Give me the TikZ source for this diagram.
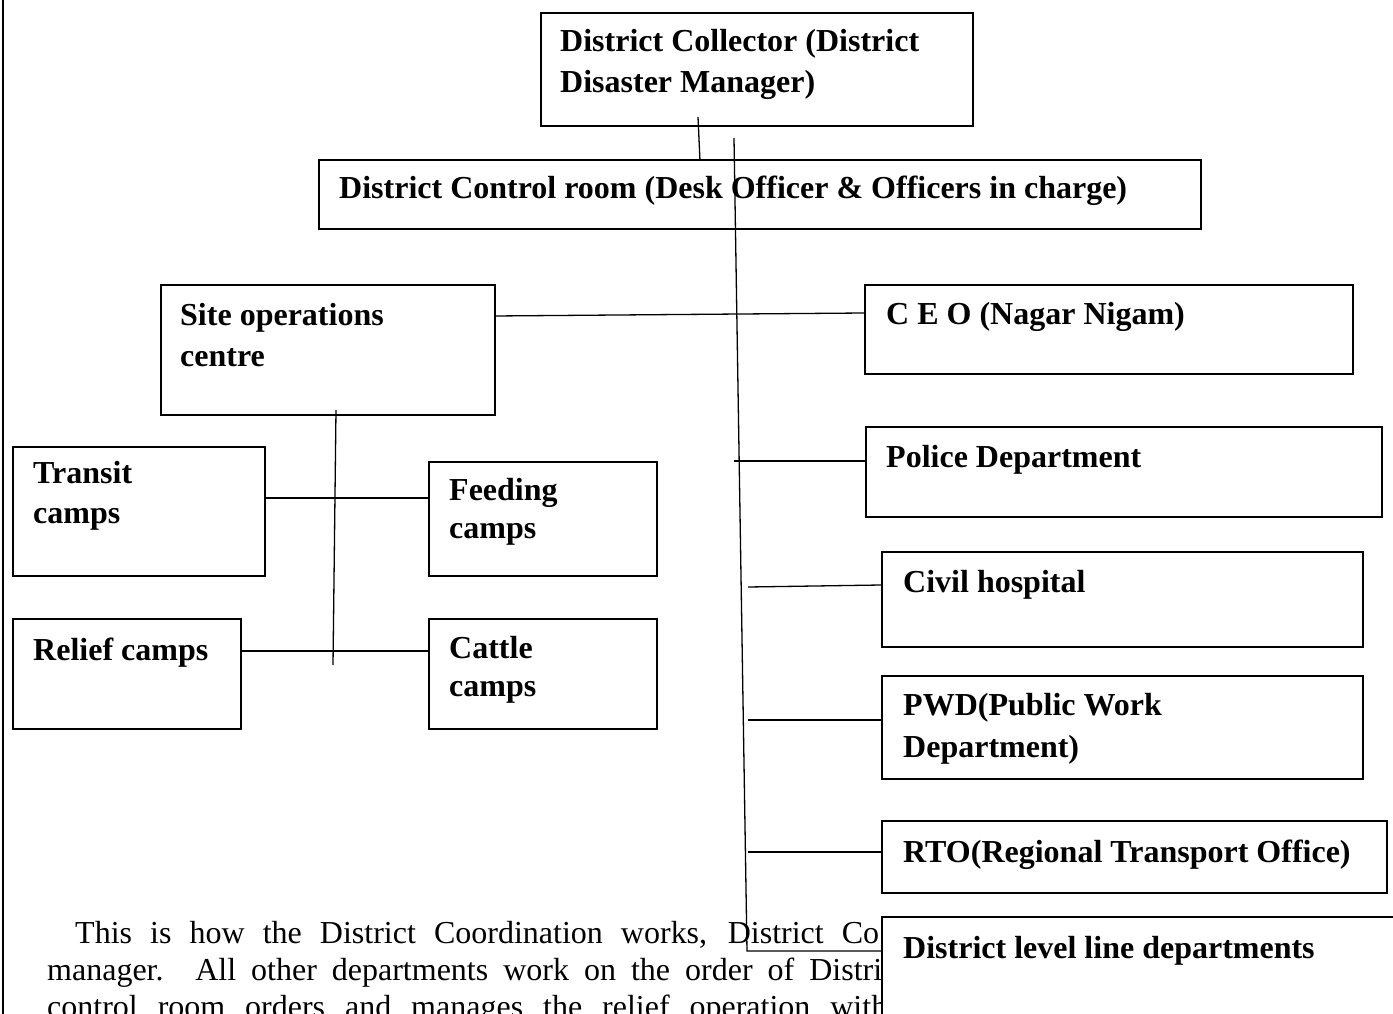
\documentclass[tikz,border=0pt]{standalone}
\usepackage{fontspec}
\setmainfont{Liberation Serif}
\begin{document}
\begin{tikzpicture}[x=1pt,y=-1pt,
  box/.style={draw, line width=1.6pt, fill=white, inner sep=0pt, anchor=north west},
  lbl/.style={anchor=base west, inner sep=0pt, font=\fontsize{32}{41}\selectfont\bfseries},
  para/.style={anchor=base west, inner sep=0pt, font=\fontsize{32}{37}\selectfont},
  link/.style={line width=1.3pt},
]
\useasboundingbox (0,0) rectangle (1393,1014);
\clip (0,0) rectangle (1393,1014);

% page edge on the left
\coordinate (edgeT) at (3,0);
\coordinate (edgeB) at (3,1014);
\draw[link] (edgeT) -- (edgeB);

% boxes
\node[box, minimum width=432pt, minimum height=113pt] (coll)    at (540,12)  {};
\node[box, minimum width=882pt, minimum height=69pt]  (ctrl)    at (318,159) {};
\node[box, minimum width=334pt, minimum height=130pt] (site)    at (160,284) {};
\node[box, minimum width=488pt, minimum height=89pt]  (ceo)     at (864,284) {};
\node[box, minimum width=516pt, minimum height=90pt]  (police)  at (865,426) {};
\node[box, minimum width=481pt, minimum height=95pt]  (civil)   at (881,551) {};
\node[box, minimum width=481pt, minimum height=103pt] (pwd)     at (881,675) {};
\node[box, minimum width=505pt, minimum height=72pt]  (rto)     at (881,820) {};
\node[box, minimum width=252pt, minimum height=129pt] (transit) at (12,446)  {};
\node[box, minimum width=228pt, minimum height=114pt] (feeding) at (428,461) {};
\node[box, minimum width=228pt, minimum height=110pt] (relief)  at (12,618)  {};
\node[box, minimum width=228pt, minimum height=110pt] (cattle)  at (428,618) {};

% box texts
\node[lbl] (coll1)    at (560,52)  {District Collector (District};
\node[lbl] (coll2)    at (560,93)  {Disaster Manager)};
\node[lbl] (ctrl1)    at (339,198) {District Control room (Desk Officer \& Officers in charge)};
\node[lbl] (site1)    at (180,325) {Site operations};
\node[lbl] (site2)    at (180,366) {centre};
\node[lbl] (ceo1)     at (886,324) {C E O (Nagar Nigam)};
\node[lbl] (police1)  at (886,467) {Police Department};
\node[lbl] (civil1)   at (903,592) {Civil hospital};
\node[lbl] (pwd1)     at (903,715) {PWD(Public Work};
\node[lbl] (pwd2)     at (903,757) {Department)};
\node[lbl] (rto1)     at (903,862) {RTO(Regional Transport Office)};
\node[lbl] (transit1) at (33,483)  {Transit};
\node[lbl] (transit2) at (33,523)  {camps};
\node[lbl] (feeding1) at (449,500) {Feeding};
\node[lbl] (feeding2) at (449,538) {camps};
\node[lbl] (relief1)  at (33,660)  {Relief camps};
\node[lbl] (cattle1)  at (449,658) {Cattle};
\node[lbl] (cattle2)  at (449,696) {camps};

% connector end points
\coordinate (cA) at (698,117);
\coordinate (cB) at (700,161);
\coordinate (tTop) at (734,138);
\coordinate (tBot) at (747,951);
\coordinate (pA) at (734,461);
\coordinate (hA) at (748,587);
\coordinate (wA) at (748,720);
\coordinate (rA) at (748,852);
\coordinate (sTop) at (336,410);
\coordinate (sBot) at (333,665);
\coordinate (sR) at (494,316);
\coordinate (ceoL) at (864,313);
\coordinate (polL) at (865,461);
\coordinate (civL) at (881,585);
\coordinate (pwdL) at (881,720);
\coordinate (rtoL) at (881,852);
\coordinate (trR) at (264,498);
\coordinate (feL) at (428,498);
\coordinate (reR) at (240,651);
\coordinate (caL) at (428,651);

% connectors
\draw[link] (cA) -- (cB);
\draw[link] (sR) -- (ceoL);
\draw[link] (pA) -- (polL);
\draw[link] (hA) -- (civL);
\draw[link] (wA) -- (pwdL);
\draw[link] (rA) -- (rtoL);
\draw[link] (sTop) -- (sBot);
\draw[link] (trR) -- (feL);
\draw[link] (reR) -- (caL);

% running text below the chart
\node[para] (par1) at (75,943)  {\makebox[804pt][s]{This is how the District Coordination works, District Co}};
\node[para] (par2) at (47,980)  {\makebox[835pt][s]{manager. All other departments work on the order of Distri}};
\node[para] (par3) at (47,1017) {\makebox[840pt][s]{control room orders and manages the relief operation with}};

% last department box sits over the text
\node[box, minimum width=600pt, minimum height=200pt] (dlld) at (881,916) {};
\node[lbl] (dlld1) at (903,958) {District level line departments};
\draw[link] (tTop) -- (tBot) -- (dlld.west |- tBot);
\end{tikzpicture}
\end{document}
